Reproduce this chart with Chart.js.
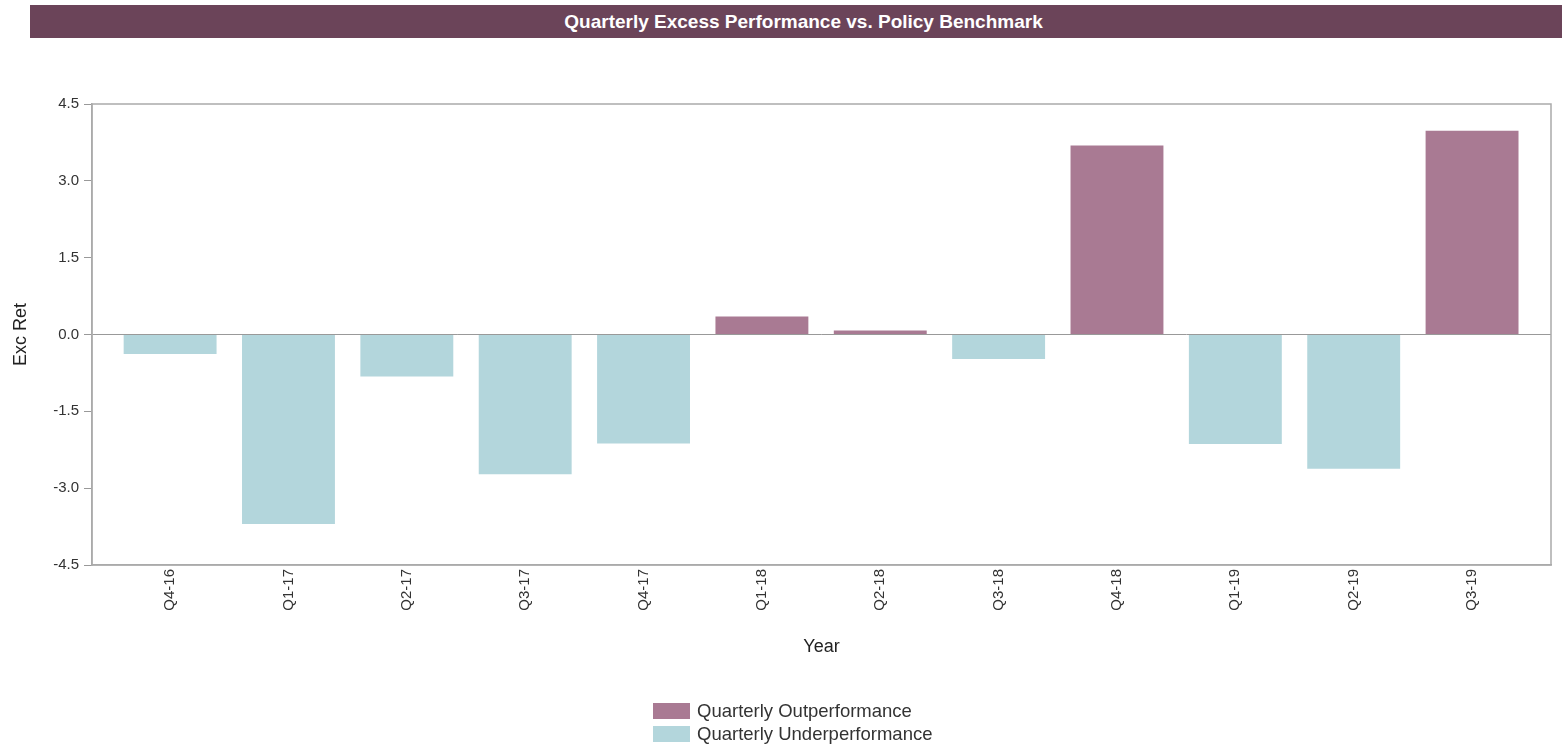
<!DOCTYPE html>
<html>
<head>
<meta charset="utf-8">
<script src="https://cdn.jsdelivr.net/npm/chart.js@4/dist/chart.umd.min.js"></script>
<style>
  html, body { margin: 0; padding: 0; background: #fff; }
  #wrap { position: relative; width: 1562px; height: 746px; }
  #titleBar {
    position: absolute; left: 30px; top: 5px; width: 1532px; height: 33px;
    background: #6b4459; color: #fff; text-align: center;
    font: bold 19px "Liberation Sans", Arial, sans-serif;
    line-height: 33px;
    box-sizing: border-box; padding-left: 15px;
  }
  #chart { position: absolute; left: 0; top: 0; }
  #legend {
    position: absolute; left: 653px; top: 699px;
    font: 18.5px "Liberation Sans", Arial, sans-serif; color: #333;
  }
  .item { display: flex; align-items: center; height: 23px; }
  .box { width: 37px; height: 16px; margin-right: 7px; }
</style>
</head>
<body>
<div id="wrap">
  <canvas id="chart" width="1562" height="746"></canvas>
  <div id="titleBar">Quarterly Excess Performance vs. Policy Benchmark</div>
  <div id="legend"></div>
</div>
<script>
//quarters on the x axis
const quarters = ["Q4-16", "Q1-17", "Q2-17", "Q3-17", "Q4-17", "Q1-18",
  "Q2-18", "Q3-18", "Q4-18", "Q1-19", "Q2-19", "Q3-19"];
//excess return per quarter (%)
const excessReturn = [-0.38, -3.7, -0.82, -2.73, -2.13, 0.35,
  0.08, -0.48, 3.69, -2.14, -2.62, 3.98];
//y axis ticks
const yTicks = [-4.5, -3.0, -1.5, 0.0, 1.5, 3.0, 4.5];
const seriesNames = ["Quarterly Outperformance", "Quarterly Underperformance"];
const seriesColors = ["#a97a93", "#b3d6dc"];

//split into out / under performance
const outData = excessReturn.map((v, i) => ({ x: i, y: v >= 0 ? v : null }));
const underData = excessReturn.map((v, i) => ({ x: i, y: v < 0 ? v : null }));

//draws the box around the plot
const frame = {
  id: "frame",
  afterDraw(chart) {
    const { ctx, chartArea: a } = chart;
    ctx.save();
    ctx.strokeStyle = "#aaaaaa";
    ctx.lineWidth = 1.5;
    ctx.strokeRect(a.left, a.top, a.right - a.left, a.bottom - a.top);
    ctx.restore();
  },
};

const tickFont = { family: "'Liberation Sans', Arial, sans-serif", size: 15 };

let myChart = new Chart(document.getElementById("chart"), {
  type: "bar",
  plugins: [frame],
  data: {
    datasets: [
      { label: seriesNames[0], data: outData, backgroundColor: seriesColors[0] },
      { label: seriesNames[1], data: underData, backgroundColor: seriesColors[1] },
    ],
  },
  options: {
    responsive: false,
    animation: false,
    grouped: false,
    barPercentage: 0.785,
    categoryPercentage: 1,
    layout: { padding: { left: 10, right: 11, top: 104, bottom: 88 } },
    plugins: { legend: { display: false }, tooltip: { enabled: false } },
    scales: {
      x: {
        type: "linear",
        min: -0.66,
        max: 11.667,
        offset: false,
        afterBuildTicks: (scale) => {
          scale.ticks = quarters.map((_, i) => ({ value: i }));
        },
        afterFit: (scale) => { scale.height = 93; },
        grid: { display: false, drawTicks: false },
        border: { color: "#aaaaaa", width: 1.5 },
        ticks: {
          autoSkip: false,
          minRotation: 90,
          maxRotation: 90,
          padding: 4,
          color: "#333",
          font: tickFont,
          callback: (v) => quarters[v],
        },
        title: {
          display: true,
          text: "Year",
          color: "#222",
          padding: 0,
          font: { family: "'Liberation Sans', Arial, sans-serif", size: 18 },
        },
      },
      y: {
        min: -4.5,
        max: 4.5,
        afterBuildTicks: (scale) => {
          scale.ticks = yTicks.map((v) => ({ value: v }));
        },
        afterFit: (scale) => { scale.width = 82; },
        grid: {
          color: (c) => (c.tick && c.tick.value === 0 ? "#999999" : "transparent"),
          tickColor: "#999999",
          tickLength: 8,
        },
        border: { color: "#aaaaaa", width: 1.5 },
        ticks: {
          color: "#333",
          font: tickFont,
          padding: 5,
          callback: (v) => Number(v).toFixed(1),
        },
        title: {
          display: true,
          text: "Exc Ret",
          color: "#222",
          padding: 0,
          font: { family: "'Liberation Sans', Arial, sans-serif", size: 18 },
        },
      },
    },
  },
});

//html legend, one item per row
const legendBox = document.getElementById("legend");
myChart.data.datasets.forEach((ds) => {
  const row = document.createElement("div");
  row.className = "item";
  row.innerHTML = `<span class="box" style="background:${ds.backgroundColor}"></span>${ds.label}`;
  legendBox.appendChild(row);
});
</script>
</body>
</html>
